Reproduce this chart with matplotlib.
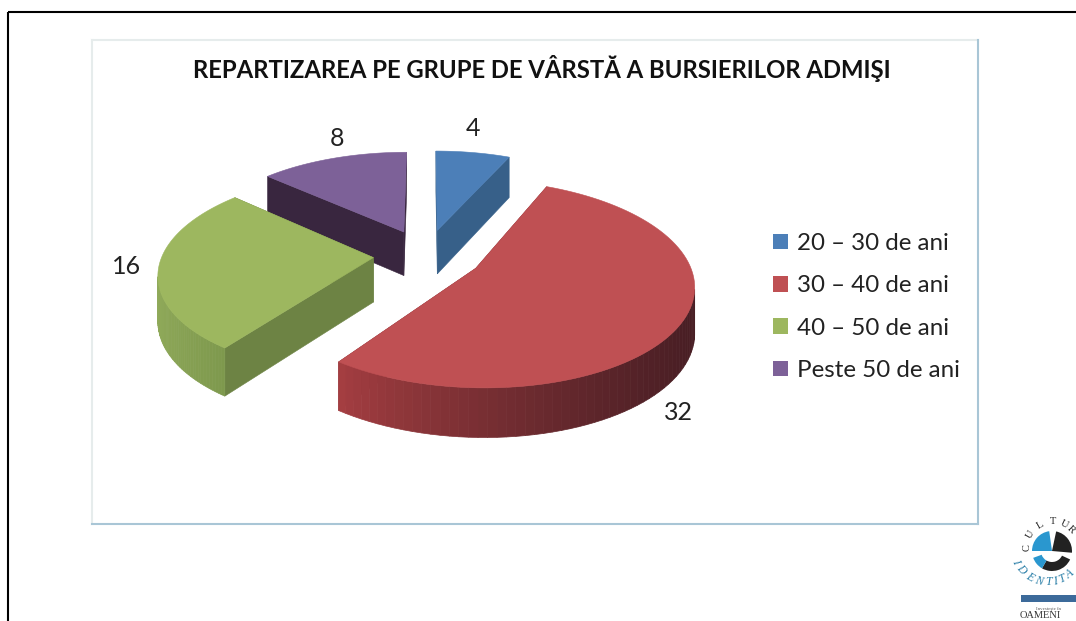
import numpy as np
import matplotlib
matplotlib.use("Agg")
import matplotlib.pyplot as plt
from matplotlib.patches import Polygon, Patch, Wedge, Rectangle

TITLE = "REPARTIZAREA PE GRUPE DE VÂRSTĂ A BURSIERILOR ADMIŞI"
categories = ["20 – 30 de ani", "30 – 40 de ani", "40 – 50 de ani", "Peste 50 de ani"]
values = [4, 32, 16, 8]
explode = [0.267, 0.267, 0.25, 0.267]
top_colors = ["#4c7fb8", "#bf5053", "#9db75f", "#7d6198"]
inner_colors = ["#376089", "#7a2a30", "#6d8344", "#39263f"]
wall_lit = ["#3f6c9c", "#a83f42", "#8fa959", "#4a3358"]
wall_dark = ["#33597f", "#481e24", "#7c974c", "#39263f"]
label_xy = [(473, 129), (337, 138), (127, 267), (678, 413)]
label_order = [0, 3, 2, 1]

CX, CY, W, K, P, DEPTH = 426, 255, 211, 97.7, 0.147, 44.5


def project(u, v, z=0.0):
    f = 1 / (1 + P * v)
    return CX + W * u * f, CY - K * v * f + z * DEPTH * f ** 0.6


fig = plt.figure(figsize=(10.76, 6.21), dpi=100)
ax = fig.add_axes([0, 0, 1, 1])
ax.set_xlim(0, 1076)
ax.set_ylim(621, 0)
ax.axis("off")

# slide frame and chart frame
ax.plot([8, 8], [621, 12], color="black", lw=1.5, solid_capstyle="butt")
ax.plot([8, 1076], [12, 12], color="black", lw=1.5, solid_capstyle="butt")
ax.plot([92, 978], [40, 40], color="#e6ecec", lw=1.5)
ax.plot([92, 92], [40, 524], color="#e6ecec", lw=1.5)
ax.plot([978, 978], [40, 524], color="#a9c6d6", lw=1.5)
ax.plot([92, 978], [524, 524], color="#a9c6d6", lw=1.5)

fracs = np.array(values) / sum(values)
edges = np.concatenate([[0], np.cumsum(fracs)]) * 2 * np.pi
hex2 = matplotlib.colors.to_rgb

for i in [3, 0, 2, 1]:
    a0, a1 = edges[i], edges[i + 1]
    mid = (a0 + a1) / 2
    ou, ov = explode[i] * np.sin(mid), explode[i] * np.cos(mid)
    th = np.linspace(a0, a1, 90)
    us = ou + np.sin(th)
    vs = ov + np.cos(th)
    # radial walls
    for ang_u, ang_v in [(us[0], vs[0]), (us[-1], vs[-1])]:
        p = [project(ou, ov), project(ang_u, ang_v),
             project(ang_u, ang_v, 1), project(ou, ov, 1)]
        ax.add_patch(Polygon(p, closed=True, fc=inner_colors[i], ec=inner_colors[i], lw=0.4))
    # curved wall, shaded from left to right
    x0, y0 = project(us, vs)
    x1, y1 = project(us, vs, 1)
    c0, c1 = np.array(hex2(wall_lit[i])), np.array(hex2(wall_dark[i]))
    xmin, xmax = x0.min(), x0.max()
    for j in range(len(th) - 1):
        if x0[j + 1] < x0[j]:
            t = ((x0[j] - xmin) / max(xmax - xmin, 1)) ** 0.8
            col = c0 + (c1 - c0) * t
            ax.add_patch(Polygon([(x0[j], y0[j]), (x0[j + 1], y0[j + 1]),
                                  (x1[j + 1], y1[j + 1]), (x1[j], y1[j])],
                                 closed=True, fc=col, ec=col, lw=0.5))
    # top face
    top = [project(ou, ov)] + list(zip(x0, y0))
    ax.add_patch(Polygon(top, closed=True, fc=top_colors[i], ec=top_colors[i], lw=0.4))

fam = ["Lato", "DejaVu Sans"]
ax.text(541.5, 68, TITLE, ha="center", va="center", fontsize=17.2, fontweight="bold",
        family=fam, color="#111111")
for idx, xy in zip(label_order, label_xy):
    ax.text(xy[0], xy[1], str(values[idx]), ha="center", va="center", fontsize=18,
            family=fam, color="#222222")

handles = [Patch(fc=c, ec="none") for c in top_colors]
ax.legend(handles, categories, loc="center left", bbox_to_anchor=(773 / 1076, 1 - 307 / 621),
          frameon=False, prop={"family": "Lato", "size": 17.4}, labelspacing=0.88,
          handlelength=0.62, handleheight=0.62, handletextpad=0.38, labelcolor="#222222",
          borderpad=0, borderaxespad=0)

# logo
bx, by = 1052, 551
ax.add_patch(Wedge((bx, by), 20, 180, 262, fc="#2a97cf", ec="none"))
ax.add_patch(Wedge((bx, by), 20, 282, 5, fc="#222222", ec="none"))
ax.add_patch(Wedge((bx, by), 20, 25, 120, width=9, fc="#222222", ec="none"))
ax.add_patch(Wedge((bx, by), 20, 120, 160, width=9, fc="#2a97cf", ec="none"))
for ch, ang in zip("CULTUR", [-90, -60, -30, 0, 25, 45]):
    r = np.radians(ang)
    ax.text(1053 + 26 * np.sin(r), 548 - 26 * np.cos(r), ch, rotation=-ang, ha="center", va="center",
            fontsize=7.5, family="Liberation Serif", color="#222222")
for ch, ang in zip("IDENTITA", [245, 229, 210, 195, 180, 168, 157, 143]):
    r = np.radians(ang)
    ax.text(1048 + 36 * np.sin(r), 546 - 36 * np.cos(r), ch, rotation=180 - ang, ha="center", va="center",
            fontsize=8.5, family="Liberation Serif", style="italic", color="#2a7fa8")
ax.add_patch(Rectangle((1021, 595), 55, 7, fc="#3c6a9a", ec="none"))
ax.text(1048, 609, "Investeşte în", ha="center", va="center", fontsize=3.5,
        family="Liberation Serif", color="#555555")
ax.text(1020, 615.5, "OAMENI", ha="left", va="center", fontsize=7.5, family="Liberation Serif",
        color="#333333")

fig.savefig("out.png", dpi=100)
